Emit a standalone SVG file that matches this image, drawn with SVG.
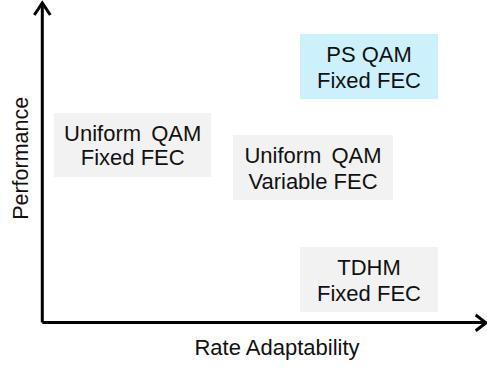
<svg xmlns="http://www.w3.org/2000/svg" width="487" height="371" viewBox="0 0 487 371">
<style>
.box{fill:#f2f2f2}
.hl{fill:#cdf1fc}
text{font-family:"Liberation Sans",Arial,sans-serif;font-size:22px;fill:#111;text-anchor:middle}
.ws{word-spacing:4px}
.ax{stroke:#000;stroke-width:3;fill:none}
.ah{stroke:#000;stroke-width:3;fill:none;stroke-linejoin:miter}
</style>
<g id="connectors">
<path class="ax" d="M42.3,322.5 V3"/>
<path class="ax" d="M42.3,322.5 H485"/>
<path class="ah" d="M34.3,15 L42.3,3 L50.3,15"/>
<path class="ah" d="M475.7,315 L486,322.8 L475.7,330.7"/>
</g>
<g id="ps-qam">
<rect class="hl" x="300" y="34" width="138" height="65"/>
<text x="369" y="61.7">PS QAM</text>
<text x="369" y="88.3">Fixed FEC</text>
</g>
<g id="uniform-fixed">
<rect class="box" x="54" y="113" width="157" height="64"/>
<text class="ws" x="132.7" y="141.3">Uniform QAM</text>
<text x="132.7" y="164.7">Fixed FEC</text>
</g>
<g id="uniform-variable">
<rect class="box" x="233" y="135" width="160" height="65"/>
<text class="ws" x="313" y="163.3">Uniform QAM</text>
<text x="313" y="189.3">Variable FEC</text>
</g>
<g id="tdhm">
<rect class="box" x="300" y="247" width="138" height="65"/>
<text x="369" y="275.3">TDHM</text>
<text x="369" y="300.7">Fixed FEC</text>
</g>
<g id="labels">
<text x="277" y="355" style="font-size:22px">Rate Adaptability</text>
<text transform="translate(28,158.3) rotate(-90)" style="font-size:21.5px">Performance</text>
</g>
</svg>
